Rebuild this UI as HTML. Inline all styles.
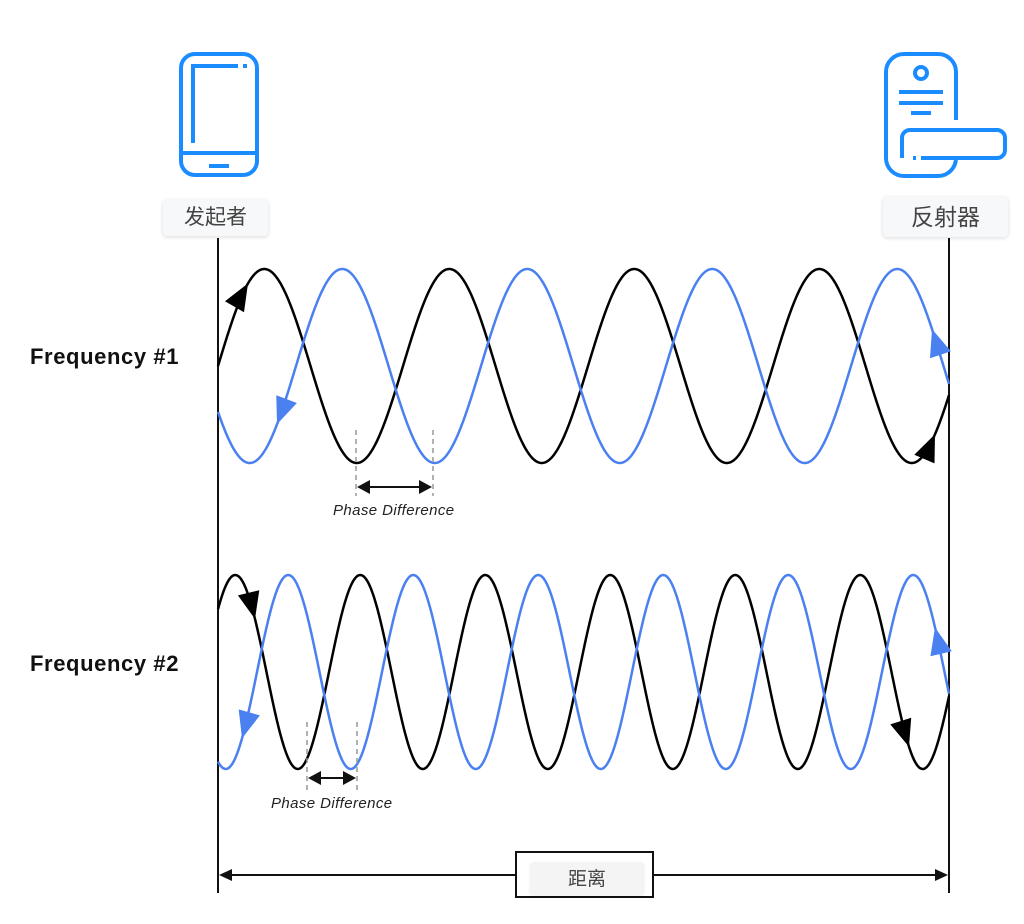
<!DOCTYPE html>
<html><head><meta charset="utf-8">
<style>
html,body{margin:0;padding:0;background:#fff;}
body{width:1024px;height:924px;position:relative;overflow:hidden;font-family:"Liberation Sans","Noto Sans CJK SC",sans-serif;}
.lbl{position:absolute;background:#f7f8fa;border-radius:4px;box-shadow:0 1px 4px rgba(0,0,0,0.15);color:#444;font-size:21px;text-align:center;font-family:"Liberation Sans","Noto Sans CJK SC",sans-serif;}
.freq{position:absolute;font-weight:bold;font-size:22px;letter-spacing:0.6px;color:#111;}
.pd{position:absolute;font-style:italic;font-size:15px;letter-spacing:0.4px;color:#222;}
</style></head><body>
<svg id="s" width="1024" height="924" style="position:absolute;left:0;top:0">
  <g fill="none" stroke="#1a8cff" stroke-width="4" stroke-linecap="butt">
    <rect x="181" y="54" width="76" height="121" rx="14"/>
    <path d="M193 143 V66 H238"/>
    <path d="M243 66 H247"/>
    <path d="M181 153 H257"/>
    <path d="M209 166 H229"/>
  </g>
  <g fill="none" stroke="#1a8cff" stroke-width="4">
    <path d="M956 120 V72 a18 18 0 0 0 -18 -18 h-34 a18 18 0 0 0 -18 18 v86 a18 18 0 0 0 18 18 h34 a18 18 0 0 0 18 -18"/>
    <circle cx="921" cy="73" r="6"/>
    <path d="M899 92 H943 M899 103 H943 M911 113 H931"/>
    <path d="M902 158 V138 a8 8 0 0 1 8 -8 h87 a8 8 0 0 1 8 8 v12 a8 8 0 0 1 -8 8 h-76"/>
    <path d="M913 158 H916"/>
  </g>
  <line x1="218" y1="238" x2="218" y2="893" stroke="#111" stroke-width="2"/>
  <line x1="949" y1="238" x2="949" y2="893" stroke="#111" stroke-width="2"/>
  <g id="waves"></g>
  <g stroke="#999" stroke-width="1.5" stroke-dasharray="5,4">
    <line x1="356" y1="430" x2="356" y2="496"/>
    <line x1="433" y1="430" x2="433" y2="496"/>
    <line x1="307" y1="722" x2="307" y2="790"/>
    <line x1="357" y1="722" x2="357" y2="790"/>
  </g>
  <g stroke="#111" stroke-width="2">
    <line x1="366" y1="487" x2="423" y2="487"/>
    <line x1="317" y1="778" x2="347" y2="778"/>
    <line x1="228" y1="875" x2="515" y2="875"/>
    <line x1="653" y1="875" x2="939" y2="875"/>
  </g>
  <g fill="#111">
    <polygon points="357,487 370,480 370,494"/>
    <polygon points="432,487 419,480 419,494"/>
    <polygon points="308,778 321,771 321,785"/>
    <polygon points="356,778 343,771 343,785"/>
    <polygon points="219,875 232,869 232,881"/>
    <polygon points="948,875 935,869 935,881"/>
  </g>
  <rect x="516" y="852" width="137" height="45" fill="#fff" stroke="#111" stroke-width="2"/>
</svg>
<div class="lbl" style="left:163px;top:200px;width:105px;height:36px;line-height:36px;">发起者</div>
<div class="lbl" style="left:883px;top:197px;width:125px;height:40px;line-height:40px;font-size:23px;">反射器</div>
<div class="lbl" style="left:530px;top:862px;width:114px;height:33px;line-height:35px;background:#f4f4f5;box-shadow:0 1px 3px rgba(0,0,0,0.08);font-size:19px;">距离</div>
<div class="freq" style="left:30px;top:344px;">Frequency #1</div>
<div class="freq" style="left:30px;top:651px;">Frequency #2</div>
<div class="pd" style="left:333px;top:502px;">Phase Difference</div>
<div class="pd" style="left:271px;top:795px;">Phase Difference</div>
<script>
(function(){
var g=document.getElementById('waves'),NS='http://www.w3.org/2000/svg';
function f(mid,A,x0,P){return function(x){return mid-A*Math.sin(2*Math.PI*(x-x0)/P);};}
var W=[
 {fn:f(366,97,218,185),c:'#000'},
 {fn:f(366,97,296,185),c:'#4a80f0'},
 {fn:f(672,97,204,125),c:'#000'},
 {fn:f(672,97,257,125),c:'#4a80f0'}
];
W.forEach(function(w){
 var d='';for(var x=218;x<=949;x+=1){d+=(x==218?'M':'L')+x+' '+w.fn(x).toFixed(2);}
 var p=document.createElementNS(NS,'path');p.setAttribute('d',d);p.setAttribute('fill','none');
 p.setAttribute('stroke',w.c);p.setAttribute('stroke-width','2.5');g.appendChild(p);
});
function arrow(w,x,dir){
 var y=w.fn(x),dx=dir,dy=(w.fn(x+dir*0.5)-w.fn(x-dir*0.5));
 var L=Math.hypot(dx,dy);dx/=L;dy/=L;
 var len=27,hw=11;var bx=x-dx*len,by=y-dy*len;
 var pts=[x,y,bx-dy*hw,by+dx*hw,bx+dy*hw,by-dx*hw];
 var p=document.createElementNS(NS,'polygon');p.setAttribute('points',pts.map(function(v){return v.toFixed(1)}).join(' '));
 p.setAttribute('fill',w.c);g.appendChild(p);
}
arrow(W[0],248,1);arrow(W[1],277,-1);arrow(W[1],932,-1);arrow(W[0],935,1);
arrow(W[2],255,1);arrow(W[3],242,-1);arrow(W[3],935,-1);arrow(W[2],909,1);
})();
</script>
</body></html>
